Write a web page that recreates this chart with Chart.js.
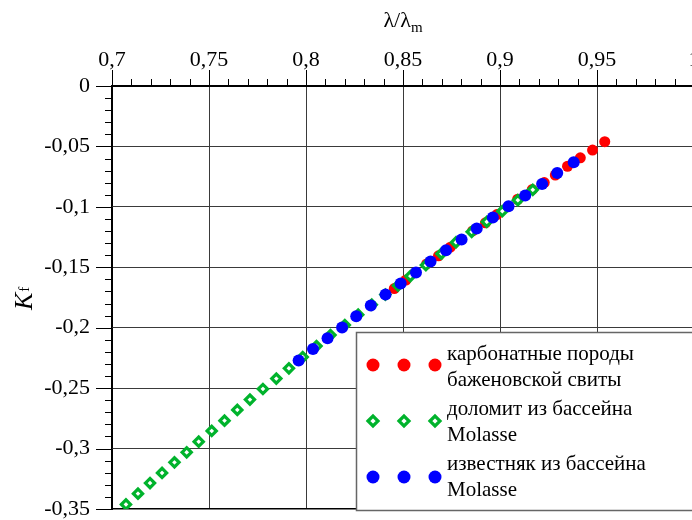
<!DOCTYPE html>
<html>
<head>
<meta charset="utf-8">
<script src="https://cdn.jsdelivr.net/npm/chart.js@4.4.1/dist/chart.umd.min.js"></script>
<style>
    html, body { margin: 0; padding: 0; overflow: hidden; background: #fff; width: 692px; height: 520px; }
    #wrap { position: absolute; left: 0; top: 0; width: 712px; height: 520px; }
</style>
</head>
<body>
<div id="wrap"><canvas id="grafico" width="712" height="520"></canvas></div>
<script>
// ---- DADOS ----
const xTickValues = [0.7, 0.75, 0.8, 0.85, 0.9, 0.95, 1.0];
const xTickLabels = ["0,7", "0,75", "0,8", "0,85", "0,9", "0,95", "1"];
const yTickValues = [0, -0.05, -0.1, -0.15, -0.2, -0.25, -0.3, -0.35];
const yTickLabels = ["0", "-0,05", "-0,1", "-0,15", "-0,2", "-0,25", "-0,3", "-0,35"];

// карбонатные породы баженовской свиты
const redX = [0.8455, 0.8515, 0.8622, 0.8683, 0.8744, 0.8859, 0.8925, 0.8984, 0.9091, 0.9166,
              0.9228, 0.9285, 0.9348, 0.9414, 0.9477, 0.9540];
const redY = [-0.1676, -0.1606, -0.1472, -0.1405, -0.1334, -0.1199, -0.1132, -0.1064, -0.0937, -0.0857,
              -0.0799, -0.0737, -0.0664, -0.0594, -0.0530, -0.0461];

// доломит из бассейна Molasse
const greenX = [0.7072, 0.7134, 0.7196, 0.7258, 0.7322, 0.7385, 0.7447, 0.7514, 0.7580, 0.7646,
                0.7711, 0.7778, 0.7847, 0.7912, 0.7983, 0.8054, 0.8126, 0.8200, 0.8269, 0.8339,
                0.8409, 0.8474, 0.8538, 0.8618, 0.8698, 0.8773, 0.8854, 0.8932, 0.9012, 0.9092, 0.9169];
const greenY = [-0.3462, -0.3373, -0.3285, -0.3202, -0.3114, -0.3031, -0.2943, -0.2854, -0.2769, -0.2680,
                -0.2595, -0.2507, -0.2421, -0.2336, -0.2243, -0.2152, -0.2061, -0.1978, -0.1892, -0.1809,
                -0.1726, -0.1651, -0.1573, -0.1482, -0.1387, -0.1293, -0.1207, -0.1124, -0.1036, -0.0945, -0.0859];

// известняк из бассейна Molasse
const blueX = [0.7962, 0.8036, 0.8111, 0.8186, 0.8259, 0.8334, 0.8410, 0.8488, 0.8567, 0.8642,
               0.8722, 0.8802, 0.8880, 0.8963, 0.9044, 0.9130, 0.9217, 0.9295, 0.9380];
const blueY = [-0.2272, -0.2177, -0.2088, -0.1999, -0.1906, -0.1817, -0.1726, -0.1635, -0.1544, -0.1453,
               -0.1359, -0.1271, -0.1180, -0.1089, -0.0995, -0.0906, -0.0811, -0.0720, -0.0631];

const legendLines = [
    ["карбонатные породы", "баженовской свиты"],
    ["доломит из бассейна", "Molasse"],
    ["известняк из бассейна", "Molasse"]
];

const SERIF = '"Liberation Serif", serif';
Chart.defaults.font.family = SERIF;
const toPoints = (xs, ys) => xs.map((x, i) => ({ x: x, y: ys[i] }));

// zera o espaço extra que o Chart.js reserva para os rótulos das pontas
function semPadding(scale) {
    scale.paddingTop = 0;
    scale.paddingBottom = 0;
    scale.paddingLeft = 0;
    scale.paddingRight = 0;
}

// ---- PLUGINS ----
// pequenos traços (minor ticks) nos eixos
const ticksMenores = {
    id: "ticksMenores",
    afterDraw(chart) {
        const ctx = chart.ctx;
        const sx = chart.scales.x, sy = chart.scales.y;
        const area = chart.chartArea;
        ctx.save();
        ctx.strokeStyle = "#000";
        ctx.lineWidth = 1;
        ctx.beginPath();
        for (let k = 70; k <= 100; k++) {
            const px = Math.round(sx.getPixelForValue(k / 100)) + 0.5;
            const len = (k % 5 === 0) ? 16 : 7;
            ctx.moveTo(px, area.top + 1);
            ctx.lineTo(px, area.top - len);
        }
        for (let k = 0; k <= 35; k++) {
            const py = Math.round(sy.getPixelForValue(-k / 100)) + 0.5;
            const len = (k % 5 === 0) ? 16 : 7;
            ctx.moveTo(area.left + 1, py);
            ctx.lineTo(area.left - len, py);
        }
        ctx.stroke();
        ctx.restore();
    }
};

// títulos dos eixos com subscrito
const titulos = {
    id: "titulos",
    afterDraw(chart) {
        const ctx = chart.ctx;
        const area = chart.chartArea;
        ctx.save();
        ctx.fillStyle = "#000";
        ctx.textBaseline = "alphabetic";

        // λ/λm
        ctx.font = "22px " + SERIF;
        const main = "λ/λ";
        const w1 = ctx.measureText(main).width;
        ctx.font = "15px " + SERIF;
        const w2 = ctx.measureText("m").width;
        const cx = (area.left + area.right) / 2;
        let x0 = cx - (w1 + w2) / 2;
        ctx.font = "22px " + SERIF;
        ctx.fillText(main, x0, 27);
        ctx.font = "15px " + SERIF;
        ctx.fillText("m", x0 + w1, 32);

        // Kf (vertical)
        ctx.translate(32, 310);
        ctx.rotate(-Math.PI / 2);
        ctx.font = "italic 26px " + SERIF;
        ctx.fillText("K", 0, 0);
        const wk = ctx.measureText("K").width;
        ctx.font = "15px " + SERIF;
        ctx.fillText("f", wk + 1, -3);
        ctx.restore();
    }
};

// legenda com três marcadores e texto em duas linhas
const legenda = {
    id: "legenda",
    afterDatasetsDraw(chart) {
        const ctx = chart.ctx;
        const box = { left: 356.5, top: 332.5, right: 711, bottom: 510.5 };
        ctx.save();
        ctx.fillStyle = "#fff";
        ctx.fillRect(box.left, box.top, box.right - box.left, box.bottom - box.top);
        ctx.strokeStyle = "#666";
        ctx.lineWidth = 1.5;
        ctx.strokeRect(box.left, box.top, box.right - box.left, box.bottom - box.top);

        const markerY = [365, 421, 477];
        const textY = [[360, 386], [415, 440.5], [470, 496]];
        const markerX = [373, 404, 435];
        chart.data.datasets.forEach((ds, i) => {
            ctx.fillStyle = ds.backgroundColor;
            ctx.strokeStyle = ds.borderColor;
            ctx.lineWidth = ds.borderWidth || 1;
            markerX.forEach(mx => {
                Chart.helpers.drawPoint(ctx, {
                    pointStyle: ds.pointStyle,
                    radius: ds.legendRadius,
                    borderWidth: ds.borderWidth,
                    rotation: 0
                }, mx, markerY[i]);
            });
            ctx.fillStyle = "#000";
            ctx.font = "21px " + SERIF;
            ctx.textBaseline = "alphabetic";
            legendLines[i].forEach((t, j) => ctx.fillText(t, 447, textY[i][j]));
        });
        ctx.restore();
    }
};

// ---- GRÁFICO ----
const ctx = document.getElementById("grafico").getContext("2d");
new Chart(ctx, {
    type: "scatter",
    data: {
        datasets: [
            {
                label: legendLines[0].join(" "),
                data: toPoints(redX, redY),
                pointStyle: "circle",
                pointRadius: 5.5,
                legendRadius: 6.5,
                borderWidth: 0,
                backgroundColor: "#ff0000",
                borderColor: "#ff0000",
                order: 3
            },
            {
                label: legendLines[1].join(" "),
                data: toPoints(greenX, greenY),
                pointStyle: "rectRot",
                pointRadius: 4.6,
                legendRadius: 5,
                borderWidth: 3.2,
                backgroundColor: "#ffffff",
                borderColor: "#00b32c",
                order: 2
            },
            {
                label: legendLines[2].join(" "),
                data: toPoints(blueX, blueY),
                pointStyle: "circle",
                pointRadius: 6,
                legendRadius: 6.5,
                borderWidth: 0,
                backgroundColor: "#0000ff",
                borderColor: "#0000ff",
                order: 1
            }
        ]
    },
    options: {
        responsive: false,
        animation: false,
        events: [],
        layout: { padding: { left: 0, top: 0, right: 18, bottom: 11 } },
        plugins: { legend: { display: false }, tooltip: { enabled: false } },
        scales: {
            x: {
                type: "linear",
                position: "top",
                min: 0.7,
                max: 1.0,
                afterBuildTicks: scale => { scale.ticks = xTickValues.map(v => ({ value: v })); },
                afterFit: scale => { scale.height = 86; semPadding(scale); },
                ticks: {
                    autoSkip: false,
                    maxRotation: 0,
                    padding: 13,
                    color: "#000",
                    font: { family: SERIF, size: 22 },
                    callback: (v, i) => xTickLabels[i]
                },
                grid: {
                    drawTicks: false,
                    color: c => (c.index === 0 ? "#000" : "#3a3a3a"),
                    lineWidth: 1
                },
                border: { display: true, color: "#000", width: 1.3 }
            },
            y: {
                type: "linear",
                min: -0.35,
                max: 0,
                afterBuildTicks: scale => { scale.ticks = yTickValues.slice().reverse().map(v => ({ value: v })); },
                afterFit: scale => { scale.width = 112; semPadding(scale); },
                ticks: {
                    autoSkip: false,
                    padding: 22,
                    color: "#000",
                    font: { family: SERIF, size: 22 },
                    callback: (v, i, ticks) => yTickLabels[yTickValues.indexOf(ticks[i].value)]
                },
                grid: {
                    drawTicks: false,
                    color: c => ((c.tick && (c.tick.value === 0 || c.tick.value === -0.35)) ? "#000" : "#3a3a3a"),
                    lineWidth: c => ((c.tick && c.tick.value === -0.35) ? 1.6 : 1)
                },
                border: { display: true, color: "#000", width: 1.3 }
            }
        }
    },
    plugins: [legenda, ticksMenores, titulos]
});
</script>
</body>
</html>
